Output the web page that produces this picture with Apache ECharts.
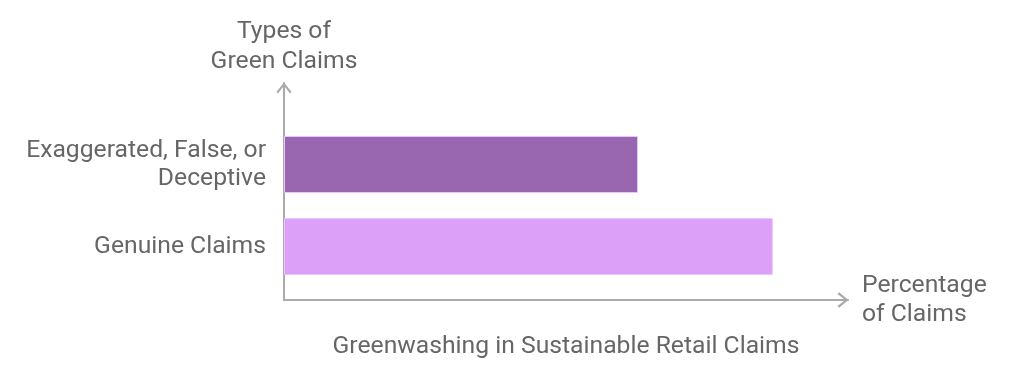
<!DOCTYPE html>
<html>
<head>
<meta charset="utf-8">
<script src="https://cdn.jsdelivr.net/npm/echarts@6/dist/echarts.min.js"></script>
<style>
html,body{margin:0;padding:0;background:#fff;}
#chart{width:1024px;height:374px;}
</style>
</head>
<body>
<div id="chart"></div>
<script>
const categories = ['Genuine Claims', 'Exaggerated, False, or\nDeceptive'];
const values = [58, 42];
const barColors = ['#dda0f9', '#9966b0'];
const chartTitle = 'Greenwashing in Sustainable Retail Claims';
const xAxisName = 'Percentage\nof Claims';
const yAxisName = 'Types of\nGreen Claims';

const chart = echarts.init(document.getElementById('chart'), null, {renderer: 'canvas'});
const font = 'Roboto, "Noto Sans", sans-serif';
const fs = 24.7;
const textColor = '#666666';
const axisColor = '#aaaaaa';
const chevron = 'path://M5,0 L10,6.2 L9,7.2 L5,2.2 L1,7.2 L0,6.2 Z';

chart.setOption({
  animation: false,
  backgroundColor: '#ffffff',
  title: {
    text: chartTitle,
    left: 561, top: 329, textAlign: 'center',
    textStyle: {fontFamily: font, fontSize: fs, fontWeight: 'normal', color: textColor}
  },
  grid: [
    {left: 284, top: 123.5, width: 590, height: 164, containLabel: false},
    {left: 284, top: 83, width: 564, height: 217, containLabel: false}
  ],
  xAxis: [
    {gridIndex: 0, type: 'value', min: 0, max: 70, show: false},
    {gridIndex: 1, type: 'value', min: 0, max: 1,
     axisLine: {show: true, lineStyle: {color: axisColor, width: 2},
       symbol: ['none', chevron], symbolSize: [17, 11], symbolOffset: [0, -5]},
     axisTick: {show: false}, axisLabel: {show: false}, splitLine: {show: false},
     name: xAxisName, nameLocation: 'end', nameGap: 14,
     nameTextStyle: {fontFamily: font, fontSize: fs, color: textColor, align: 'left', verticalAlign: 'middle', lineHeight: 29}}
  ],
  yAxis: [
    {gridIndex: 0, type: 'category', data: categories,
     axisLine: {show: false}, axisTick: {show: false}, splitLine: {show: false},
     axisLabel: {fontFamily: font, fontSize: fs, color: textColor, margin: 18, lineHeight: 28, align: 'right', padding: [3, 0, 0, 0]}},
    {gridIndex: 1, type: 'value', min: 0, max: 1,
     axisLine: {show: true, lineStyle: {color: axisColor, width: 2},
       symbol: ['none', chevron], symbolSize: [17, 11], symbolOffset: [0, -5]},
     axisTick: {show: false}, axisLabel: {show: false}, splitLine: {show: false},
     name: yAxisName, nameLocation: 'end', nameGap: 6,
     nameTextStyle: {fontFamily: font, fontSize: fs, color: textColor, align: 'center', lineHeight: 30}}
  ],
  series: [{
    type: 'bar',
    xAxisIndex: 0, yAxisIndex: 0,
    barWidth: 57,
    data: values.map((v, i) => ({value: v, itemStyle: {color: barColors[i], borderColor: '#e9c6fb', borderWidth: 1}})),
    silent: true
  }]
});
</script>
</body>
</html>
